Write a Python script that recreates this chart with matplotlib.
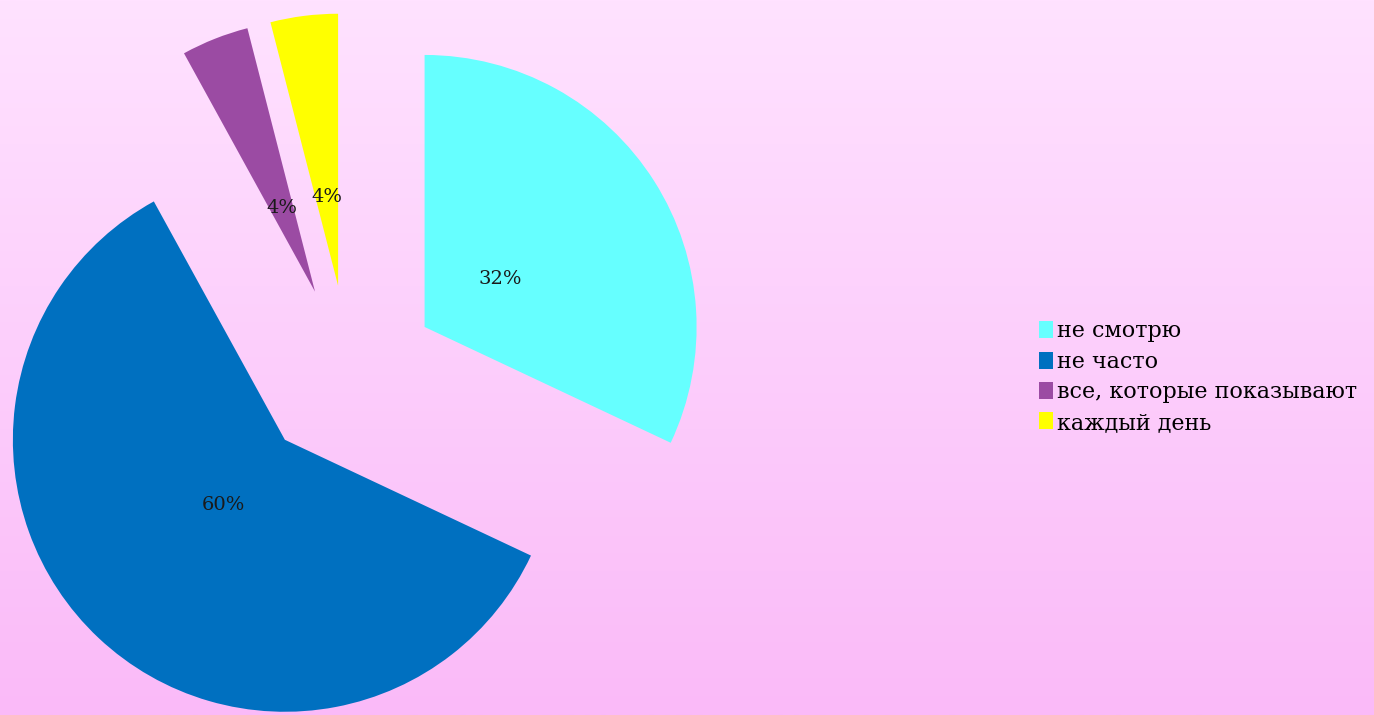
import numpy as np
import matplotlib.pyplot as plt
import matplotlib as mpl
from matplotlib.transforms import Affine2D

mpl.rc("font", family=["DejaVu Serif", "DejaVu Sans"])

# survey answers
labels = ["не смотрю", "не часто", "все, которые показывают", "каждый день"]
shares = [32, 60, 4, 4]
colors = ["#66FFFF", "#0070C0", "#9B4BA3", "#FFFF00"]
# slice offsets, in axes units (pixels here)
explode = [99, 82, 95, 95]

W, H = 1374, 715
fig = plt.figure(figsize=(W / 100, H / 100), dpi=100)

# pink vertical gradient behind everything
bg = fig.add_axes([0, 0, 1, 1], zorder=0)
top = np.array([255, 226, 255]) / 255.0
bottom = np.array([250, 186, 248]) / 255.0
t = np.linspace(0, 1, 256)[:, None]
grad = top + (bottom - top) * t
bg.imshow(grad[:, None, :], aspect="auto", extent=[0, 1, 0, 1])
bg.axis("off")

ax = fig.add_axes([0, 0, 1, 1], zorder=1)
ax.set_xlim(0, W)
ax.set_ylim(0, H)
ax.set_aspect("equal")
ax.axis("off")

wedges, texts = ax.pie(
    shares,
    colors=colors,
    explode=explode,
    startangle=90,
    counterclock=False,
    center=(341, H - 380),
    radius=272,
    labeldistance=0.33,
    labels=[f"{v}%" for v in shares],
    textprops=dict(fontsize=14, color="#1a1a1a"),
    frame=True,
)
for w in wedges:
    w.set_linewidth(0)
for tx in texts:
    tx.set_ha("center")
    tx.set_va("center")

# the two thin slices sit a little further right
nudge = Affine2D().translate(9, 0) + ax.transData
for art in wedges[2:] + texts[2:]:
    art.set_transform(nudge)

ax.set_xlim(0, W)
ax.set_ylim(0, H)
ax.axis("off")

leg = ax.legend(
    wedges,
    labels,
    loc="center left",
    bbox_to_anchor=(1030 / W, 1 - 377 / H),
    frameon=False,
    fontsize=16,
    handlelength=0.65,
    handleheight=0.8,
    handletextpad=0.15,
    labelspacing=0.38,
    borderaxespad=0,
)

plt.savefig("out.png", dpi=100)
